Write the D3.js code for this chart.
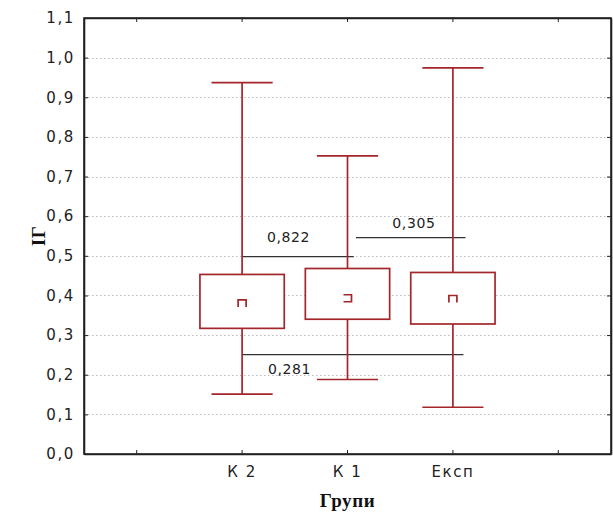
<!DOCTYPE html>
<html>
<head>
<meta charset="utf-8">
<script src="https://cdn.jsdelivr.net/npm/d3@7"></script>
<style>
  body { margin: 0; background: #fff; }
  svg { display: block; }
</style>
</head>
<body>
<div id="chart"></div>
<script>
// categories on x axis (outer slots stay empty)
const categories = ['', 'К 2', 'К 1', 'Експ', ''];
const groups = ['К 2', 'К 1', 'Експ'];

// box plot values per group
const boxLow = [0.317, 0.340, 0.328];
const boxHigh = [0.453, 0.468, 0.458];
const whiskerLow = [0.151, 0.188, 0.118];
const whiskerHigh = [0.937, 0.752, 0.974];
const means = [0.380, 0.393, 0.391];

// pairwise comparison lines (positions in category index units)
const pairLabels = ['0,822', '0,305', '0,281'];
const pairLevels = [0.498, 0.546, 0.2505];
const pairStart = [1, 2.08, 1];
const pairEnd = [2.06, 3.12, 3.10];
const pairLabelAt = [1.44, 2.63, 1.45];
const pairLabelLevel = [0.536, 0.570, 0.201];

const yTicks = [0, 0.1, 0.2, 0.3, 0.4, 0.5, 0.6, 0.7, 0.8, 0.9, 1.0, 1.1];

const width = 613, height = 520;
const margin = {top: 18, right: 2, bottom: 66, left: 84};
const red = '#a3262a';
const labelFont = '"DejaVu Sans", "Liberation Sans", sans-serif';

const svg = d3.select('#chart').append('svg')
  .attr('width', width)
  .attr('height', height);

const x = d3.scaleBand()
  .domain(d3.range(categories.length))
  .range([margin.left, width - margin.right])
  .padding(0);

const xi = d3.scaleLinear()
  .domain([-0.5, categories.length - 0.5])
  .range([margin.left, width - margin.right]);

const y = d3.scaleLinear()
  .domain([0, 1.1])
  .range([height - margin.bottom, margin.top]);

const fmt = d => d3.format('.1f')(d).replace('.', ',');

// grid
svg.append('g')
  .selectAll('line')
  .data(yTicks.slice(1, -1))
  .join('line')
    .attr('x1', margin.left)
    .attr('x2', width - margin.right)
    .attr('y1', d => Math.round(y(d)) + 0.5)
    .attr('y2', d => Math.round(y(d)) + 0.5)
    .attr('stroke', '#bdbdbd')
    .attr('stroke-dasharray', '1.5,2.5');

// axes (ticks inward, mirrored)
svg.append('g')
  .attr('transform', `translate(${margin.left},0)`)
  .call(d3.axisLeft(y).tickValues(yTicks).tickFormat(fmt).tickSizeInner(-4).tickSizeOuter(0).tickPadding(9));

svg.append('g')
  .attr('transform', `translate(${width - margin.right},0)`)
  .call(d3.axisRight(y).tickValues(yTicks).tickFormat('').tickSizeInner(-4).tickSizeOuter(0));

svg.append('g')
  .attr('transform', `translate(0,${height - margin.bottom})`)
  .call(d3.axisBottom(x).tickFormat(i => categories[i]).tickSizeInner(-4).tickSizeOuter(0).tickPadding(12));

svg.append('g')
  .attr('transform', `translate(0,${margin.top})`)
  .call(d3.axisTop(x).tickFormat('').tickSizeInner(-4).tickSizeOuter(0));

svg.selectAll('.domain').attr('stroke', '#222').attr('stroke-width', 1.6);
svg.selectAll('.tick line').attr('stroke', '#222');
svg.selectAll('.tick text')
  .style('font-family', labelFont)
  .style('font-size', '15px')
  .style('letter-spacing', '1.6px')
  .style('fill', '#222');

// frame
svg.append('rect')
  .attr('x', margin.left)
  .attr('y', margin.top)
  .attr('width', width - margin.left - margin.right)
  .attr('height', height - margin.top - margin.bottom)
  .attr('fill', 'none')
  .attr('stroke', '#222')
  .attr('stroke-width', 1.6);

// comparison lines
const pairs = pairLabels.map((label, i) => ({
  label, level: pairLevels[i], start: pairStart[i], end: pairEnd[i],
  at: pairLabelAt[i], labelLevel: pairLabelLevel[i]
}));

svg.append('g')
  .selectAll('line')
  .data(pairs)
  .join('line')
    .attr('x1', d => xi(d.start))
    .attr('x2', d => xi(d.end))
    .attr('y1', d => y(d.level))
    .attr('y2', d => y(d.level))
    .attr('stroke', '#333')
    .attr('stroke-width', 1.2);

svg.append('g')
  .selectAll('text')
  .data(pairs)
  .join('text')
    .attr('x', d => xi(d.at))
    .attr('y', d => y(d.labelLevel))
    .attr('text-anchor', 'middle')
    .style('font-family', labelFont)
    .style('font-size', '14px')
    .style('letter-spacing', '0.6px')
    .style('fill', '#222')
    .text(d => d.label);

// boxes
const data = groups.map((g, i) => ({
  g, idx: categories.indexOf(g),
  q1: boxLow[i], q3: boxHigh[i], lo: whiskerLow[i], hi: whiskerHigh[i], mean: means[i]
}));

const bw = x.bandwidth();
const box = svg.append('g')
  .selectAll('g')
  .data(data)
  .join('g')
    .attr('transform', d => `translate(${x(d.idx) + bw / 2},0)`)
    .attr('stroke', red)
    .attr('stroke-width', 1.7)
    .attr('fill', 'none');

box.append('line')
  .attr('y1', d => y(d.hi))
  .attr('y2', d => y(d.q3));
box.append('line')
  .attr('y1', d => y(d.q1))
  .attr('y2', d => y(d.lo));
box.append('line')
  .attr('x1', -bw * 0.29).attr('x2', bw * 0.29)
  .attr('y1', d => y(d.hi)).attr('y2', d => y(d.hi));
box.append('line')
  .attr('x1', -bw * 0.29).attr('x2', bw * 0.29)
  .attr('y1', d => y(d.lo)).attr('y2', d => y(d.lo));
box.append('rect')
  .attr('x', -bw * 0.4)
  .attr('width', bw * 0.8)
  .attr('y', d => y(d.q3))
  .attr('height', d => y(d.q1) - y(d.q3))
  .attr('fill', '#fff');

// mean markers (small open squares)
box.append('path')
  .attr('d', (d, i) => {
    const cy = y(d.mean), w = 4, h = 3.5;
    return i === 1
      ? `M${-w},${cy - h}H${w}V${cy + h}H${-w}`
      : `M${-w},${cy + h}V${cy - h}H${w}V${cy + h}`;
  });

// axis titles
const titleStyle = sel => sel
  .attr('text-anchor', 'middle')
  .style('font-family', '"Liberation Serif", "Times New Roman", serif')
  .style('font-weight', 'bold')
  .style('font-size', '19px')
  .style('letter-spacing', '0.6px')
  .style('fill', '#111');

svg.append('text')
  .attr('transform', `translate(45,${(margin.top + height - margin.bottom) / 2}) rotate(-90)`)
  .call(titleStyle)
  .text('ІГ');

svg.append('text')
  .attr('x', xi(2))
  .attr('y', 507)
  .call(titleStyle)
  .text('Групи');
</script>
</body>
</html>
